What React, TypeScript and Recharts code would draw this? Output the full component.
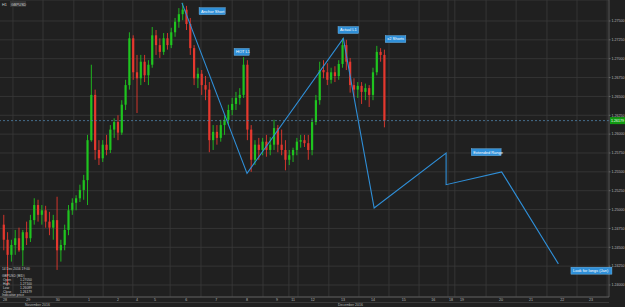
import React from 'react';
import { ComposedChart, Bar, Line, XAxis, YAxis, CartesianGrid, ReferenceLine, ReferenceDot } from 'recharts';

// H1 GBPUSD, sampled as 3-hour candles (x = slot index, 8 slots per day)
const opens = [
  1.2480, 1.2460, 1.2440, 1.2453, 1.2462, 1.2446, 1.2470, 1.2462, 1.2486, 1.2506,
  1.2493, 1.2499, 1.2484, 1.2476, 1.2486, 1.2446, 1.2453, 1.2473, 1.2499, 1.2509,
  1.2515, 1.2526, 1.2539, 1.2592, 1.2652, 1.2579, 1.2568, 1.2586, 1.2579, 1.2606,
  1.2616, 1.2602, 1.2639, 1.2665, 1.2727, 1.2682, 1.2674, 1.2696, 1.2678, 1.2692,
  1.2731, 1.2718, 1.2709, 1.2727, 1.2718, 1.2735, 1.2749, 1.2759, 1.2765, 1.2746,
  1.2714, 1.2674, 1.2680, 1.2665, 1.2659, 1.2592, 1.2603, 1.2595, 1.2612, 1.2619,
  1.2632, 1.2640, 1.2648, 1.2652, 1.2692, 1.2606, 1.2566, 1.2586, 1.2579, 1.2590,
  1.2579, 1.2586, 1.2608, 1.2586, 1.2579, 1.2566, 1.2572, 1.2579, 1.2590, 1.2592,
  1.2588, 1.2579, 1.2616, 1.2645, 1.2685, 1.2682, 1.2672, 1.2682, 1.2677, 1.2693,
  1.2718, 1.2696, 1.2665, 1.2659, 1.2664, 1.2656, 1.2661, 1.2652, 1.2682, 1.2709,
  1.2705,
];
const highs = [
  1.2493, 1.2470, 1.2460, 1.2473, 1.2476, 1.2473, 1.2484, 1.2493, 1.2515, 1.2513,
  1.2506, 1.2505, 1.2497, 1.2493, 1.2517, 1.2460, 1.2480, 1.2506, 1.2515, 1.2519,
  1.2533, 1.2546, 1.2599, 1.2692, 1.2659, 1.2592, 1.2592, 1.2599, 1.2612, 1.2621,
  1.2625, 1.2645, 1.2672, 1.2735, 1.2731, 1.2705, 1.2705, 1.2705, 1.2698, 1.2742,
  1.2738, 1.2727, 1.2734, 1.2734, 1.2741, 1.2754, 1.2767, 1.2774, 1.2770, 1.2754,
  1.2718, 1.2688, 1.2685, 1.2677, 1.2669, 1.2612, 1.2612, 1.2619, 1.2625, 1.2639,
  1.2648, 1.2656, 1.2661, 1.2702, 1.2698, 1.2612, 1.2592, 1.2595, 1.2595, 1.2599,
  1.2596, 1.2619, 1.2612, 1.2606, 1.2592, 1.2579, 1.2582, 1.2595, 1.2599, 1.2599,
  1.2599, 1.2621, 1.2652, 1.2696, 1.2698, 1.2694, 1.2688, 1.2690, 1.2698, 1.2727,
  1.2725, 1.2701, 1.2674, 1.2669, 1.2669, 1.2667, 1.2665, 1.2688, 1.2717, 1.2714,
  1.2712,
];
const lows = [
  1.2446, 1.2400, 1.2431, 1.2440, 1.2444, 1.2425, 1.2453, 1.2457, 1.2480, 1.2484,
  1.2480, 1.2476, 1.2466, 1.2460, 1.2420, 1.2431, 1.2446, 1.2466, 1.2493, 1.2499,
  1.2510, 1.2513, 1.2506, 1.2590, 1.2566, 1.2559, 1.2563, 1.2572, 1.2575, 1.2595,
  1.2592, 1.2599, 1.2632, 1.2659, 1.2672, 1.2628, 1.2665, 1.2669, 1.2665, 1.2688,
  1.2705, 1.2701, 1.2705, 1.2712, 1.2714, 1.2729, 1.2741, 1.2751, 1.2738, 1.2705,
  1.2665, 1.2661, 1.2652, 1.2645, 1.2576, 1.2579, 1.2586, 1.2590, 1.2599, 1.2612,
  1.2625, 1.2632, 1.2639, 1.2648, 1.2592, 1.2550, 1.2559, 1.2566, 1.2572, 1.2570,
  1.2572, 1.2579, 1.2576, 1.2572, 1.2552, 1.2559, 1.2563, 1.2572, 1.2582, 1.2583,
  1.2566, 1.2572, 1.2612, 1.2639, 1.2674, 1.2665, 1.2667, 1.2669, 1.2672, 1.2688,
  1.2685, 1.2655, 1.2649, 1.2648, 1.2640, 1.2645, 1.2636, 1.2645, 1.2678, 1.2696,
  1.2609,
];
const closes = [
  1.2460, 1.2440, 1.2453, 1.2462, 1.2446, 1.2470, 1.2462, 1.2486, 1.2506, 1.2493,
  1.2499, 1.2484, 1.2476, 1.2486, 1.2446, 1.2453, 1.2473, 1.2499, 1.2509, 1.2515,
  1.2526, 1.2539, 1.2592, 1.2652, 1.2579, 1.2568, 1.2586, 1.2579, 1.2606, 1.2616,
  1.2602, 1.2639, 1.2665, 1.2727, 1.2682, 1.2674, 1.2696, 1.2678, 1.2692, 1.2731,
  1.2718, 1.2709, 1.2727, 1.2718, 1.2735, 1.2749, 1.2759, 1.2765, 1.2746, 1.2714,
  1.2674, 1.2680, 1.2665, 1.2659, 1.2592, 1.2603, 1.2595, 1.2612, 1.2619, 1.2632,
  1.2640, 1.2648, 1.2652, 1.2692, 1.2606, 1.2566, 1.2586, 1.2579, 1.2590, 1.2579,
  1.2586, 1.2608, 1.2586, 1.2579, 1.2566, 1.2572, 1.2579, 1.2590, 1.2592, 1.2588,
  1.2579, 1.2616, 1.2645, 1.2685, 1.2682, 1.2672, 1.2682, 1.2677, 1.2693, 1.2718,
  1.2696, 1.2665, 1.2659, 1.2664, 1.2656, 1.2661, 1.2652, 1.2682, 1.2709, 1.2705,
  1.26179,
];

const dayTicks = [1.3, 7.4, 15.2, 23.4, 31.0, 36.0, 40.7, 48.9, 56.8, 64.9, 72.8, 77.0, 82.2, 90.1, 98.0, 106.1, 113.8, 118.5, 121.4, 131.6, 139.5, 147.7, 155.3];
const dayLabels = ['28', '29', '30', '1', '2', '4', '5', '6', '7', '8', '9', '11', '12', '13', '14', '15', '16', '18', '19', '20', '21', '22', '23'];
const gridSlots = [3.4, 11.3, 19.4, 27.1, 34.9, 44.7, 52.8, 61.0, 69.1, 75.9, 78.3, 86.4, 94.3, 102.2, 110.1, 117.7, 119.5, 127.7, 135.6, 143.7, 151.6, 159.5];
const priceTicks = [1.24, 1.2425, 1.245, 1.2475, 1.25, 1.2525, 1.255, 1.2575, 1.26, 1.2625, 1.265, 1.2675, 1.27, 1.2725, 1.275];

const zigzagX = [47.8, 64.9, 90.2, 98.3, 117.2, 117.2, 131.8, 146.7];
const zigzagP = [1.2774, 1.2548, 1.2727, 1.2502, 1.2575, 1.2533, 1.2550, 1.2428];

const noteTexts = ['Anchor Short', 'HOT L1', 'Actual L1', 'x2 Shorts', 'Extended Range', 'Look for longs (Jan)'];
const noteX = [52.3, 61.5, 88.8, 101.2, 123.8, 150.0];
const noteP = [1.2763, 1.2709, 1.2738, 1.2726, 1.2576, 1.2419];

const lastPrice = 1.26179;
const infoRows = [
  ['Open', '1.27050'],
  ['High', '1.27100'],
  ['Low', '1.26089'],
  ['Close', '1.26179'],
];

const GREEN = '#1fc41f';
const RED = '#e5382e';
const BLUE = '#2f8fd8';
const BG = '#202020';
const FONT = '"Liberation Sans", Arial, sans-serif';

const candles = opens.map((o, i) => ({
  x: i + 1,
  o,
  h: highs[i],
  l: lows[i],
  c: closes[i],
  range: [lows[i], highs[i]],
}));
const zigzag = zigzagX.map((x, i) => ({ x, p: zigzagP[i] }));

const Candle = (props: any) => {
  const { x, y, width, height, payload } = props;
  if (!payload) return null;
  const { o, h, l, c } = payload;
  const top = Math.min(y, y + height);
  const hh = Math.abs(height);
  const k = h - l > 0 ? hh / (h - l) : 0;
  const cx = x + width / 2;
  const bTop = top + (h - Math.max(o, c)) * k;
  const bBot = top + (h - Math.min(o, c)) * k;
  const color = c >= o ? GREEN : RED;
  return (
    <g>
      <line x1={cx} x2={cx} y1={top} y2={top + hh} stroke={color} strokeWidth={0.9} />
      <rect x={cx - 1.1} y={bTop} width={2.2} height={Math.max(bBot - bTop, 0.8)} fill={color} />
    </g>
  );
};

const NoteBox = ({ cx, cy, text }: any) => {
  const w = text.length * 1.85 + 4;
  return (
    <g>
      <rect x={cx} y={cy - 3.5} width={w} height={7} fill={BLUE} stroke="#7cc0f0" strokeWidth={0.4} />
      <text x={cx + 2} y={cy + 1.4} fontSize={4} fill="#ffffff" fontFamily={FONT}>{text}</text>
    </g>
  );
};

const PriceTag = (props: any) => {
  const vb = props.viewBox || {};
  const y = vb.y ?? 0;
  const x = (vb.x ?? 0) + (vb.width ?? 0);
  return (
    <g>
      <rect x={x + 1} y={y - 3.5} width={15} height={7} fill="#119a11" />
      <text x={x + 2} y={y + 1.4} fontSize={3.6} fill="#ffffff" fontFamily={FONT}>{lastPrice.toFixed(5)}</text>
    </g>
  );
};

const XTick = (props: any) => {
  const { x, y, payload } = props;
  const idx = dayTicks.indexOf(payload.value);
  return (
    <text x={x} y={y + 3.6} fontSize={3.6} fill="#b8b8b8" textAnchor="middle" fontFamily={FONT}>
      {idx >= 0 ? dayLabels[idx] : ''}
    </text>
  );
};

const YTick = (props: any) => {
  const { x, y, payload } = props;
  return (
    <text x={x + 1} y={y + 1.3} fontSize={3.6} fill="#b8b8b8" fontFamily={FONT}>
      {Number(payload.value).toFixed(5)}
    </text>
  );
};

export default function App() {
  return (
    <div style={{ position: 'fixed', left: 0, top: 0, width: 625, height: 307, background: BG, overflow: 'hidden' }}>
      <ComposedChart width={625} height={307} data={candles} margin={{ top: 0, right: 0, bottom: 0, left: 0 }}>
        <CartesianGrid stroke="#3a3a3a" strokeWidth={0.8} verticalValues={gridSlots} />
        <XAxis
          type="number"
          dataKey="x"
          domain={[0, 160]}
          allowDataOverflow
          ticks={dayTicks}
          interval={0}
          tick={<XTick />}
          tickLine={false}
          tickSize={0}
          tickMargin={0}
          axisLine={{ stroke: '#666666', strokeWidth: 0.8 }}
          height={10}
        />
        <YAxis
          orientation="right"
          type="number"
          domain={[1.23841, 1.27778]}
          allowDataOverflow
          ticks={priceTicks}
          interval={0}
          tick={<YTick />}
          tickSize={1.5}
          tickMargin={0}
          tickLine={{ stroke: '#666666' }}
          axisLine={{ stroke: '#666666', strokeWidth: 0.8 }}
          width={16}
        />
        <ReferenceLine y={lastPrice} stroke="#4f83aa" strokeDasharray="2 2" strokeWidth={0.8} label={<PriceTag />} ifOverflow="visible" />
        <Bar dataKey="range" barSize={3} shape={<Candle />} isAnimationActive={false} />
        <Line
          data={zigzag}
          dataKey="p"
          type="linear"
          stroke={BLUE}
          strokeWidth={1.1}
          dot={false}
          activeDot={false}
          isAnimationActive={false}
        />
        {noteTexts.map((t, i) => (
          <ReferenceDot
            key={t}
            x={noteX[i]}
            y={noteP[i]}
            r={0}
            ifOverflow="visible"
            shape={(p: any) => <NoteBox cx={p.cx} cy={p.cy} text={t} />}
          />
        ))}
      </ComposedChart>
      <svg width={625} height={307} style={{ position: 'absolute', left: 0, top: 0, pointerEvents: 'none' }}>
        <text x={2} y={5.5} fontSize={3.8} fill="#d0d0d0" fontFamily={FONT}>H1</text>
        <rect x={10} y={1} width={16} height={6} fill="#333333" />
        <text x={11} y={5.5} fontSize={3.6} fill="#d0d0d0" fontFamily={FONT}>GBPUSD</text>
        <text x={2} y={269.5} fontSize={3.3} fill="#c8c8c8" fontFamily={FONT}>14 Dec 2016 19:00</text>
        <text x={2} y={276.5} fontSize={3.3} fill="#c8c8c8" fontFamily={FONT}>GBPUSD (BID)</text>
        {infoRows.map((r, i) => (
          <g key={r[0]}>
            <text x={3} y={280.8 + i * 4} fontSize={3.3} fill="#c8c8c8" fontFamily={FONT}>{r[0]}</text>
            <text x={20} y={280.8 + i * 4} fontSize={3.3} fill="#c8c8c8" fontFamily={FONT}>{r[1]}</text>
          </g>
        ))}
        <text x={2} y={296} fontSize={3.3} fill="#c8c8c8" fontFamily={FONT}>Indicative price</text>
        <line x1={0} x2={609} y1={302.5} y2={302.5} stroke="#4a4a4a" strokeWidth={0.6} />
        <text x={25} y={306} fontSize={3.5} fill="#b8b8b8" fontFamily={FONT}>November 2016</text>
        <text x={338} y={306} fontSize={3.5} fill="#b8b8b8" fontFamily={FONT}>December 2016</text>
      </svg>
    </div>
  );
}
